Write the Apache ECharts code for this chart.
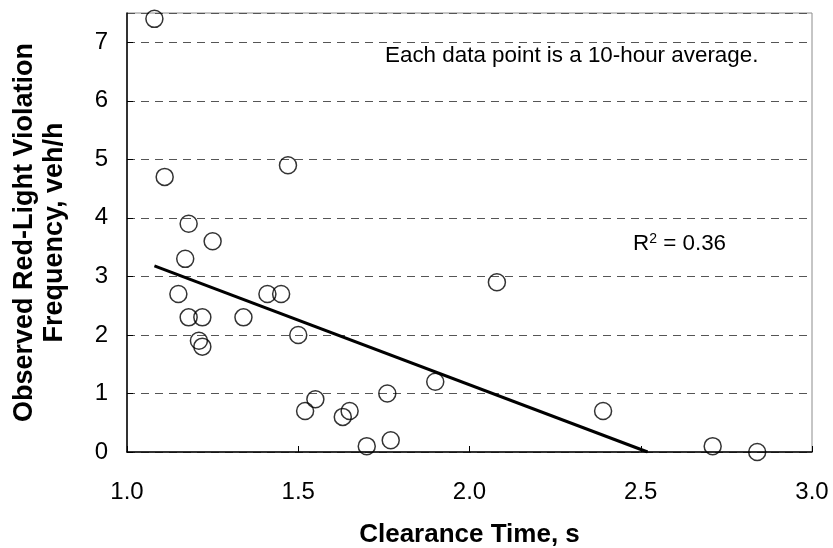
<!DOCTYPE html>
<html>
<head>
    <meta http-equiv="Content-Type" content="text/html; charset=utf-8"/>
    <script src="https://cdn.jsdelivr.net/npm/echarts@6/dist/echarts.min.js"></script>
    <style>
        html, body {margin: 0; padding: 0; background: #fff;}
    </style>
</head>
<body>
<div id="chart" style="width:833px;height:548px;"></div>

<script type="text/javascript">
    // clearance time (s) and observed red-light violation frequency (veh/h)
    var clearTime = [1.08, 1.11, 1.47, 1.18, 1.25, 1.17, 1.15, 1.18, 1.22, 1.34, 1.41, 1.45,
        1.21, 1.22, 1.50, 1.52, 1.55, 1.63, 1.65, 1.70, 1.76, 1.77, 2.08, 1.90, 2.39, 2.71, 2.84];
    var violFreq = [7.4, 4.7, 4.9, 3.9, 3.6, 3.3, 2.7, 2.3, 2.3, 2.3, 2.7, 2.7,
        1.9, 1.8, 2.0, 0.7, 0.9, 0.6, 0.7, 0.1, 1.0, 0.2, 2.9, 1.2, 0.7, 0.1, 0.0];
    // fitted trend line end points
    var trendX = [1.08, 2.52];
    var trendY = [3.18, 0];
    var xTicks = [1.0, 1.5, 2.0, 2.5, 3.0];
    var yTicks = [0, 1, 2, 3, 4, 5, 6, 7];

    var points = [];
    for (var i = 0; i < clearTime.length; i++) {
        points.push([clearTime[i], violFreq[i]]);
    }
    var trend = [];
    for (var j = 0; j < trendX.length; j++) {
        trend.push([trendX[j], trendY[j]]);
    }

    var font = 'Liberation Sans, Arial, sans-serif';
    var myChart = echarts.init(document.getElementById('chart'));
    var option = {
        animation: false,
        backgroundColor: '#fff',
        grid: {
            left: 127, right: 21, top: 13, bottom: 96,
            outerBoundsMode: 'none',
            show: true, borderColor: '#8c8c8c', borderWidth: 1
        },
        xAxis: {
            type: 'value',
            min: xTicks[0], max: xTicks[xTicks.length - 1], interval: 0.5,
            name: 'Clearance Time, s',
            nameLocation: 'middle',
            nameGap: 70,
            nameTextStyle: {fontFamily: font, fontSize: 26, fontWeight: 'bold', color: '#000'},
            axisLine: {lineStyle: {color: '#000', width: 1.5}},
            axisTick: {inside: true, length: 6, lineStyle: {color: '#000'}},
            axisLabel: {
                fontFamily: font, fontSize: 24, color: '#000', margin: 28,
                formatter: function (v) { return v.toFixed(1); }
            },
            splitLine: {show: false}
        },
        yAxis: {
            type: 'value',
            min: 0, max: 7.5, interval: 1,
            name: 'Observed Red-Light Violation\nFrequency, veh/h',
            nameLocation: 'middle',
            nameGap: 57,
            nameTextStyle: {fontFamily: font, fontSize: 27, fontWeight: 'bold', color: '#000', lineHeight: 30},
            axisLine: {lineStyle: {color: '#000', width: 1.5}},
            axisTick: {show: true, inside: true, length: 6, lineStyle: {color: '#000'}},
            axisLabel: {
                fontFamily: font, fontSize: 24, color: '#000', margin: 19,
                showMaxLabel: false,
                formatter: function (v) { return yTicks.indexOf(v) >= 0 ? String(v) : ''; }
            },
            splitLine: {lineStyle: {color: '#555', type: [8, 6], width: 1}}
        },
        graphic: [
            {
                type: 'text', left: 385, top: 45,
                style: {text: 'Each data point is a 10-hour average.', font: '22.4px ' + font, fill: '#000'}
            },
            {
                type: 'text', left: 633, top: 232,
                style: {
                    text: 'R{sup|2} = 0.36',
                    font: '22.4px ' + font, fill: '#000',
                    rich: {sup: {fontSize: 14, fontFamily: font, verticalAlign: 'top', padding: [0, 0, 10, 0]}}
                }
            }
        ],
        series: [
            {
                type: 'line',
                data: trend,
                symbol: 'none',
                lineStyle: {color: '#000', width: 3},
                z: 2
            },
            {
                type: 'scatter',
                data: points,
                symbol: 'circle',
                symbolSize: 17,
                clip: false,
                itemStyle: {color: 'rgba(0,0,0,0)', borderColor: '#000', borderWidth: 1.5},
                z: 3
            }
        ]
    };
    myChart.setOption(option);
</script>
</body>
</html>
